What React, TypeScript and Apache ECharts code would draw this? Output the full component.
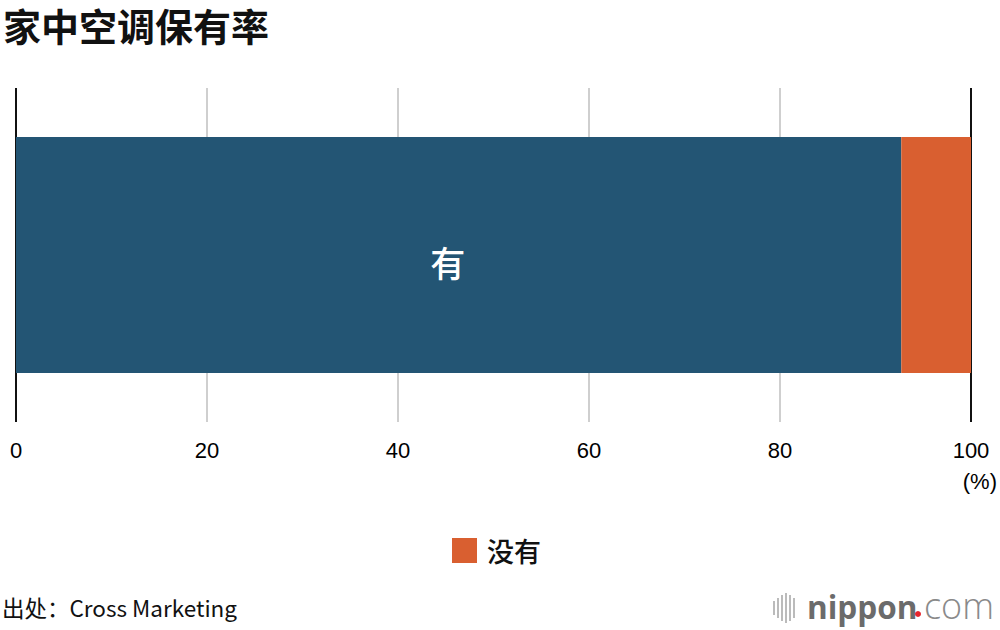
import React, { useEffect, useRef } from "react";
import * as echarts from "echarts";

const categories = ["家中空调"];
const haveValues = [92.7];
const notHaveValues = [7.3];
const seriesNames = ["有", "没有"];
const tickLabels = ["0", "20", "40", "60", "80", "100"];

const CJK = '"Noto Sans CJK SC", "Noto Sans", sans-serif';
const LAT = '"Liberation Sans", Arial, sans-serif';

export default function App() {
  const ref = useRef<HTMLDivElement>(null);
  useEffect(() => {
    if (!ref.current) return;
    const chart = echarts.init(ref.current, null, { renderer: "svg" });
    const iconBars = [
      { x: 773, h: 14 },
      { x: 777, h: 20 },
      { x: 781, h: 26 },
      { x: 785, h: 30 },
      { x: 789, h: 26 },
      { x: 793, h: 20 },
    ];
    chart.setOption({
      animation: false,
      grid: { left: 16, right: 29, top: 88, bottom: 208, containLabel: false },
      xAxis: {
        type: "value",
        min: 0,
        max: 100,
        interval: 20,
        axisLine: { show: false },
        axisTick: { show: false },
        axisLabel: {
          margin: 17,
          fontFamily: LAT,
          fontSize: 22,
          color: "#000",
          formatter: (v: number) => tickLabels[Math.round(v / 20)],
        },
        splitLine: {
          show: true,
          lineStyle: { color: ["#111", "#cfcfcf", "#cfcfcf", "#cfcfcf", "#cfcfcf", "#111"], width: 2 },
        },
      },
      yAxis: {
        type: "category",
        data: categories,
        axisLine: { show: false },
        axisTick: { show: false },
        axisLabel: { show: false },
      },
      legend: {
        data: ["没有"],
        left: 452,
        top: 537,
        padding: 0,
        itemWidth: 25,
        itemHeight: 25,
        icon: "rect",
        textStyle: { fontFamily: CJK, fontSize: 27, fontWeight: 500, color: "#111", padding: [0, 0, 0, 5] },
      },
      series: [
        {
          name: seriesNames[0],
          type: "bar",
          stack: "total",
          data: haveValues,
          barWidth: 236,
          itemStyle: { color: "#235574" },
          label: {
            show: true,
            position: "inside",
            formatter: "有",
            offset: [-11, 6],
            color: "#fff",
            fontFamily: CJK,
            fontWeight: 500,
            fontSize: 35,
          },
          z: 1,
        },
        {
          name: seriesNames[1],
          type: "bar",
          stack: "total",
          data: notHaveValues,
          barWidth: 236,
          itemStyle: { color: "#d95f30" },
          z: 1,
        },
      ],
      graphic: [
        {
          type: "text",
          x: 3,
          y: 24,
          style: {
            text: "家中空调保有率",
            fontFamily: CJK,
            fontSize: 38,
            fontWeight: "bold",
            fill: "#111",
            textVerticalAlign: "middle",
            verticalAlign: "middle",
          },
        },
        {
          type: "text",
          right: 3,
          top: 470,
          style: { text: "(%)", fontFamily: LAT, fontSize: 22, fill: "#000" },
        },
        {
          type: "text",
          left: 2,
          top: 596,
          style: { text: "出处：Cross Marketing", fontFamily: CJK, fontSize: 22.5, fill: "#111" },
        },
        ...iconBars.map((b) => ({
          type: "rect",
          shape: { x: b.x, y: 608 - b.h / 2, width: 2, height: b.h },
          style: { fill: "#bbb" },
        })),
        {
          type: "text",
          left: 807,
          top: 590,
          style: { text: "nippon", fontFamily: '"Open Sans", sans-serif', fontWeight: "bold", fontSize: 31.5, fill: "#6b6b6b" },
        },
        {
          type: "circle",
          shape: { cx: 918, cy: 614, r: 3 },
          style: { fill: "#e8242c" },
        },
        {
          type: "text",
          left: 924,
          top: 587,
          style: { text: "com", fontFamily: '"Open Sans", sans-serif', fontWeight: 300, fontSize: 36, fill: "#8a8a8a" },
        },
      ],
    });
    return () => chart.dispose();
  }, []);
  return (
    <div
      ref={ref}
      style={{ position: "fixed", left: 0, top: 0, width: 1000, height: 630, background: "#fff" }}
    />
  );
}
